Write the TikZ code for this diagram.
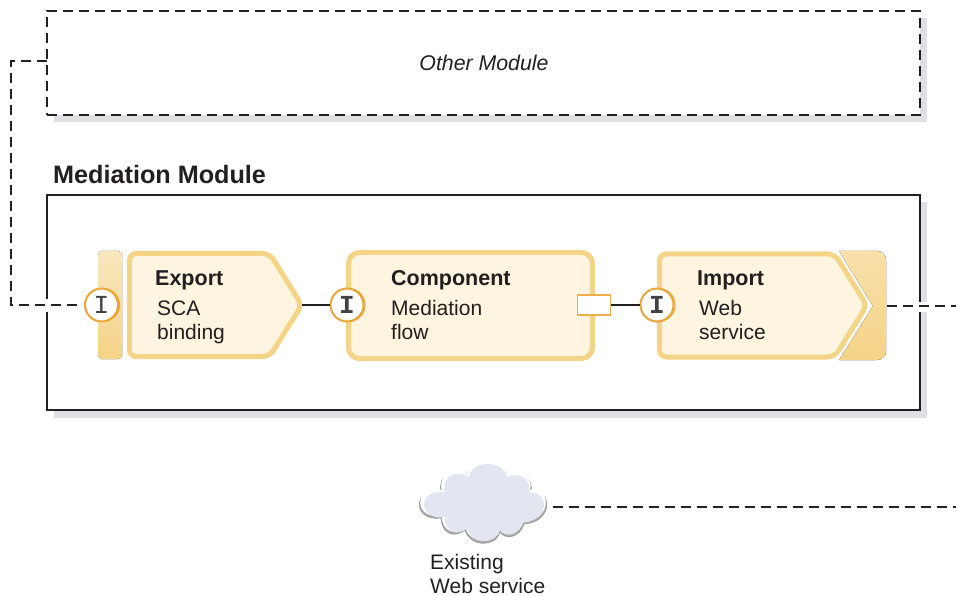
\documentclass[tikz,border=0pt]{standalone}
\usepackage{fontspec}
\setmainfont{Liberation Sans}
\newfontfamily\ifacefont{Liberation Mono}
\usetikzlibrary{shapes.symbols}
\definecolor{inkdark}{HTML}{231F20}
\definecolor{shadowgray}{HTML}{DFE0E3}
\definecolor{paleyellow}{HTML}{FDF5E0}
\definecolor{edgeyellow}{HTML}{F5D387}
\definecolor{ringorange}{HTML}{EBA63A}
\definecolor{cloudblue}{HTML}{E2E6F0}
\newcommand{\cloudpath}{(441,518) .. controls (412,522) and (412,487) .. (441,492)
  .. controls (438,472) and (455,468) .. (467,475)
  .. controls (470,457) and (504,457) .. (507,475)
  .. controls (520,469) and (534,478) .. (531,492)
  .. controls (553,490) and (553,522) .. (524,524)
  .. controls (520,538) and (505,540) .. (500,532)
  .. controls (495,548) and (470,547) .. (465,530)
  .. controls (455,538) and (442,535) .. (441,518) -- cycle}
\tikzset{
  modulebox/.style={rectangle, draw=inkdark, line width=2pt, inner sep=0pt, outer sep=0pt, anchor=center},
  wire/.style={draw=inkdark, line width=2pt},
  dashwire/.style={wire, line width=2.2pt, dash pattern=on 10pt off 6pt},
  shade/.style={fill=shadowgray},
  arrowbox/.style={signal, signal to=east, signal from=nowhere, signal pointer angle=116,
    draw=edgeyellow, fill=paleyellow, line width=5pt, rounded corners=7pt,
    minimum height=103pt, inner sep=0pt, outer sep=0pt},
  iface/.style={circle, draw=ringorange, fill=white, line width=2pt, minimum size=33pt, inner sep=0pt,
    preaction={draw=ringorange, line width=1pt, transform canvas={xshift=1.6pt}},
    font=\ifacefont\fontsize{26}{26}\selectfont\bfseries, text=inkdark!85},
  title/.style={anchor=base west, inner sep=0pt, text=inkdark, font=\fontsize{21.5}{24}\selectfont\bfseries},
  body/.style={anchor=base west, inner sep=0pt, text=inkdark, font=\fontsize{21}{24}\selectfont}
}
\begin{document}
\begin{tikzpicture}[x=1pt,y=-1pt]
  \useasboundingbox (0,0) rectangle (956,596);
  % shadows of the two modules
  \fill[shade] (54,18) rectangle (927,122);
  \fill[shade] (54,202) rectangle (927,418);
  \node[modulebox, fill=white, line width=2.2pt, dash pattern=on 10pt off 6pt, minimum width=873pt, minimum height=104pt] (othermodule) at (483.5,63) {};
  \node[modulebox, fill=white, minimum width=873pt, minimum height=215pt] (mediationmodule) at (483.5,302.5) {};
  \node[anchor=base, inner sep=0pt, text=inkdark, font=\fontsize{21.3}{24}\selectfont\itshape] (othertext) at (484,71) {Other Module};
  \node[anchor=base west, inner sep=0pt, text=inkdark, font=\fontsize{25.2}{28}\selectfont\bfseries] (mediationtext) at (53,184) {Mediation Module};
  % gaps where the dashed wires cross the module
  \fill[white] (43,299) rectangle (51,312);
  \fill[white] (917,302) rectangle (929,312);
  % export
  \fill[shading angle=200, top color=edgeyellow!55!white, bottom color=edgeyellow, rounded corners=4pt] (98,251) rectangle (122,359);
  \node[arrowbox, minimum width=172.5pt] (exportbox) at (199.5,305) {};
  \node[title] (exporttitle) at (155,285) {Export};
  \node[body] (exportone) at (157,315) {SCA};
  \node[body] (exporttwo) at (157,339) {binding};
  % component
  \node[rectangle, draw=edgeyellow, fill=paleyellow, line width=5pt, rounded corners=11pt, inner sep=0pt, outer sep=0pt,
    minimum width=244pt, minimum height=106pt] (componentbox) at (470.5,305.5) {};
  \node[title] (componenttitle) at (391,285) {Component};
  \node[body] (componentone) at (391,315) {Mediation};
  \node[body] (componenttwo) at (391,339) {flow};
  \node[rectangle, draw=ringorange!80!edgeyellow, fill=white, line width=1.6pt, inner sep=0pt, minimum width=33pt, minimum height=20pt] (portbox) at (594,305) {};
  % import
  \fill[shading angle=200, top color=edgeyellow!70!white, bottom color=edgeyellow] (839,251)
    {[rounded corners=9pt] -- (886,251) -- (886,360)} -- (839,360) -- (873,306) -- cycle;
  \node[arrowbox, minimum width=207.5pt] (importbox) at (747,305.5) {};
  \node[title] (importtitle) at (697,285) {Import};
  \node[body] (importone) at (699,315) {Web};
  \node[body] (importtwo) at (699,339) {service};
  % interfaces
  \node[iface, font=\ifacefont\fontsize{26}{26}\selectfont] (ifaceexport) at (101.5,305) {I};
  \node[iface] (ifacecomponent) at (347,305) {I};
  \node[iface] (ifaceimport) at (657,305) {I};
  % cloud
  \fill[gray!65, draw=gray!90, line width=.5pt] \cloudpath;
  \fill[white, shift={(0,-2)}] [scale around={.985:(483,503)}] \cloudpath;
  \fill[cloudblue, shift={(1,0)}] [scale around={.94:(483,503)}] \cloudpath;
  \coordinate (cloudport) at (553,507);
  \node[body] (cloudone) at (430,569.5) {Existing};
  \node[body] (cloudtwo) at (430,593) {Web service};
  % connectors
  \coordinate (otherport) at (47,61);
  \coordinate (leftelbow) at (11,305);
  \coordinate (rightend) at (956,306);
  \coordinate (cloudend) at (956,507);
  \coordinate (importport) at (887,306);
  \draw[dashwire] (ifaceexport.west) ++(-7,0) -- (leftelbow) |- (otherport);
  \draw[dashwire] (importport) -- (rightend);
  \draw[dashwire] (cloudport) -- (cloudend);
  \draw[wire] (exportbox.east) -- (ifacecomponent.west);
  \draw[wire] (portbox.east) -- (ifaceimport.west);
\end{tikzpicture}
\end{document}
